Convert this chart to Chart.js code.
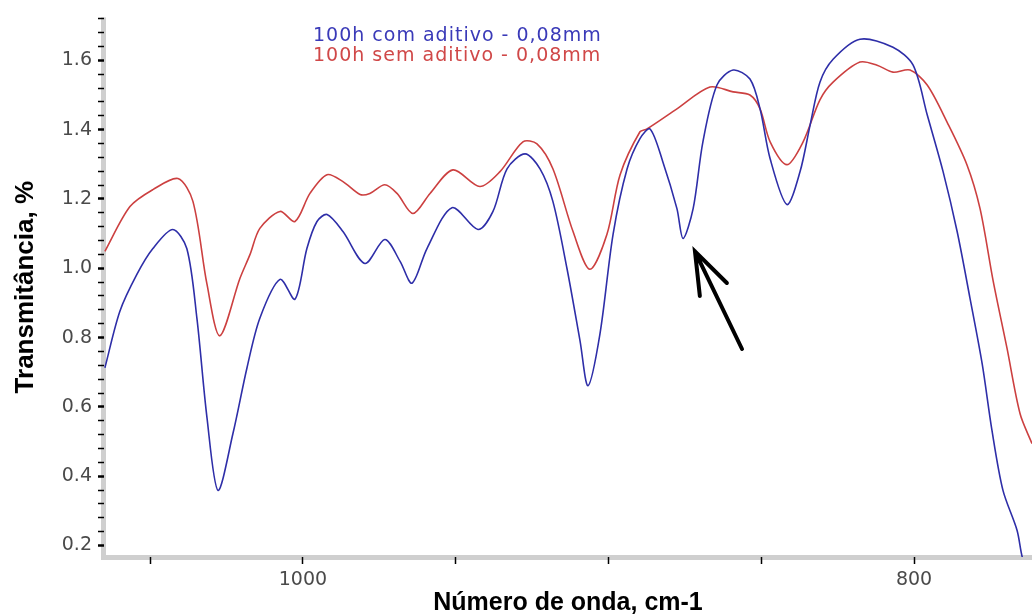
<!DOCTYPE html>
<html>
<head>
<meta charset="utf-8">
<script src="https://cdn.jsdelivr.net/npm/chart.js@4.4.1/dist/chart.umd.min.js"></script>
<style>
  html, body { margin: 0; background: #fff; }
  canvas { display: block; }
</style>
</head>
<body>
<canvas id="espectro" width="1032" height="616" style="width:1032px;height:616px"></canvas>
<script>
// número de onda (cm-1) e transmitância
const comAditivoOnda = [1064.8, 1059.9, 1054.3, 1049.1, 1042.6, 1038.0, 1034.7, 1031.4, 1027.8, 1022.9,
  1018.3, 1014.1, 1007.5, 1002.6, 998.7, 995.4, 992.1, 986.9, 979.7, 973.2,
  968.2, 964.3, 959.4, 951.2, 942.7, 937.8, 933.2, 927.3, 922.4, 918.2,
  913.6, 909.3, 906.7, 902.8, 898.5, 893.9, 889.7, 886.4, 882.2, 877.6,
  875.6, 872.3, 869.1, 864.5, 859.2, 853.7, 850.4, 847.1, 841.6, 837.3,
  834.0, 830.8, 826.5, 817.7, 806.9, 800.3, 795.7, 790.5, 785.9, 781.7,
  777.7, 774.5, 770.9, 766.3, 764.6, 762.0];
const comAditivoTransm = [0.713, 0.876, 0.983, 1.057, 1.112, 1.057, 0.856, 0.569, 0.359, 0.523,
  0.713, 0.856, 0.968, 0.911, 1.057, 1.135, 1.155, 1.106, 1.014, 1.083,
  1.020, 0.957, 1.057, 1.175, 1.112, 1.164, 1.287, 1.330, 1.287, 1.193,
  1.000, 0.790, 0.661, 0.810, 1.098, 1.287, 1.374, 1.402, 1.307, 1.172,
  1.086, 1.172, 1.365, 1.529, 1.572, 1.546, 1.460, 1.316, 1.184, 1.279,
  1.414, 1.537, 1.603, 1.661, 1.638, 1.586, 1.443, 1.279, 1.106, 0.914,
  0.724, 0.532, 0.359, 0.244, 0.167, 0.100];

const semAditivoOnda = [1064.8, 1056.6, 1049.1, 1040.9, 1036.0, 1031.4, 1027.2, 1020.6, 1017.3, 1014.1,
  1007.5, 1002.6, 997.7, 992.1, 986.9, 981.3, 978.1, 973.2, 969.2, 964.0,
  958.4, 950.9, 942.1, 935.5, 928.0, 923.4, 918.2, 911.6, 906.1, 900.5,
  896.2, 889.7, 887.4, 877.6, 866.8, 859.2, 853.7, 850.4, 847.1, 841.6,
  836.3, 830.8, 826.5, 817.7, 812.1, 806.9, 801.3, 795.7, 789.2, 782.7,
  778.4, 774.1, 769.6, 765.3, 761.4];
const semAditivoTransm = [1.049, 1.178, 1.227, 1.259, 1.193, 0.954, 0.805, 0.971, 1.040, 1.115,
  1.164, 1.135, 1.216, 1.270, 1.250, 1.213, 1.216, 1.241, 1.216, 1.158,
  1.216, 1.284, 1.236, 1.279, 1.365, 1.359, 1.287, 1.106, 0.997, 1.098,
  1.270, 1.394, 1.402, 1.460, 1.523, 1.509, 1.500, 1.460, 1.365, 1.299,
  1.365, 1.486, 1.537, 1.595, 1.586, 1.566, 1.572, 1.529, 1.422, 1.299,
  1.172, 0.963, 0.770, 0.580, 0.494];

const rotulosX = [1000, 800];
const marcasX = [1050, 1000, 950, 900, 850, 800];
const rotulosY = [0.2, 0.4, 0.6, 0.8, 1.0, 1.2, 1.4, 1.6];
const marcasY = [];
for (let v = 0.2; v < 1.73; v += 0.04) marcasY.push(Math.round(v * 100) / 100);

// seta apontando o vale em ~872 cm-1
const setaPonta = { x: 871.7, y: 1.049 };
const setaCauda = { x: 856.3, y: 0.767 };

const ehRotuloY = (v) => rotulosY.some((r) => Math.abs(r - v) < 1e-6);
const pares = (xs, ys) => xs.map((x, i) => ({ x, y: ys[i] }));

const eixosCinza = {
  id: "eixosCinza",
  beforeDraw(chart) {
    const { ctx, chartArea: a } = chart;
    ctx.save();
    ctx.fillStyle = "#cfcfcf";
    ctx.fillRect(a.left - 3, a.top, 5, a.bottom - a.top + 3);
    ctx.fillRect(a.left - 3, a.bottom - 2, a.right - a.left + 3, 5);
    ctx.restore();
  },
};

const legendaESeta = {
  id: "legendaESeta",
  afterDatasetsDraw(chart) {
    const { ctx, scales } = chart;
    ctx.save();
    ctx.font = "19px 'DejaVu Sans'";
    ctx.letterSpacing = "1px";
    ctx.textBaseline = "middle";
    const cores = ["#3a3ab8", "#d04848"];
    chart.data.datasets.forEach((ds, i) => {
      ctx.fillStyle = cores[i];
      ctx.fillText(ds.label, 313, 36 + i * 20);
    });

    const px = scales.x.getPixelForValue(setaPonta.x);
    const py = scales.y.getPixelForValue(setaPonta.y);
    const qx = scales.x.getPixelForValue(setaCauda.x);
    const qy = scales.y.getPixelForValue(setaCauda.y);
    const ang = Math.atan2(qy - py, qx - px);
    ctx.strokeStyle = "#000";
    ctx.lineWidth = 4;
    ctx.lineCap = "round";
    ctx.beginPath();
    ctx.moveTo(qx, qy);
    ctx.lineTo(px, py);
    const abertura = 0.34;
    const comp = 45;
    ctx.moveTo(px + comp * Math.cos(ang - abertura), py + comp * Math.sin(ang - abertura));
    ctx.lineTo(px, py);
    ctx.lineTo(px + comp * Math.cos(ang + abertura), py + comp * Math.sin(ang + abertura));
    ctx.stroke();
    ctx.restore();
  },
};

new Chart(document.getElementById("espectro"), {
  type: "line",
  data: {
    datasets: [
      {
        label: "100h com aditivo - 0,08mm",
        data: pares(comAditivoOnda, comAditivoTransm),
        borderColor: "#2e2ea8",
        borderWidth: 1.6,
        pointRadius: 0,
        tension: 0.3,
      },
      {
        label: "100h sem aditivo - 0,08mm",
        data: pares(semAditivoOnda, semAditivoTransm),
        borderColor: "#cc4040",
        borderWidth: 1.6,
        pointRadius: 0,
        tension: 0.3,
      },
    ],
  },
  options: {
    responsive: false,
    animation: false,
    layout: { padding: { top: 15, right: 0, bottom: 0, left: 0 } },
    plugins: { legend: { display: false }, tooltip: { enabled: false } },
    scales: {
      x: {
        type: "linear",
        reverse: true,
        min: 761.4,
        max: 1065.1,
        afterBuildTicks: (s) => { s.ticks = marcasX.map((v) => ({ value: v })); },
        afterFit: (s) => { s.height = 59; },
        border: { display: false },
        grid: { drawOnChartArea: false, drawTicks: true, tickLength: 7, tickColor: "#000", tickWidth: 1.5 },
        ticks: {
          autoSkip: false,
          maxRotation: 0,
          padding: 5,
          color: "#4a4a4a",
          font: { family: "'DejaVu Sans'", size: 19 },
          callback: (v) => (rotulosX.includes(v) ? String(v) : ""),
        },
        title: {
          display: true,
          text: "Número de onda, cm-1",
          color: "#000",
          font: { family: "'Liberation Sans', Arial", size: 25, weight: "bold", lineHeight: 1 },
          padding: { top: 0, bottom: 0 },
        },
      },
      y: {
        min: 0.1667,
        max: 1.724,
        afterBuildTicks: (s) => { s.ticks = marcasY.map((v) => ({ value: v })); },
        afterFit: (s) => { s.width = 104; },
        border: { display: false },
        grid: {
          drawOnChartArea: false,
          drawTicks: true,
          tickLength: 6,
          tickColor: "#000",
          tickWidth: (c) => (c.tick && ehRotuloY(c.tick.value) ? 2.5 : 1.5),
        },
        ticks: {
          autoSkip: false,
          padding: 6,
          color: "#4a4a4a",
          font: { family: "'DejaVu Sans'", size: 19 },
          callback: (v) => (ehRotuloY(v) ? v.toFixed(1) : ""),
        },
        title: {
          display: true,
          text: "Transmitância, %",
          color: "#000",
          font: { family: "'Liberation Sans', Arial", size: 26, weight: "bold", lineHeight: 1.2 },
          padding: { top: 10, bottom: 0 },
        },
      },
    },
  },
  plugins: [eixosCinza, legendaESeta],
});
</script>
</body>
</html>
